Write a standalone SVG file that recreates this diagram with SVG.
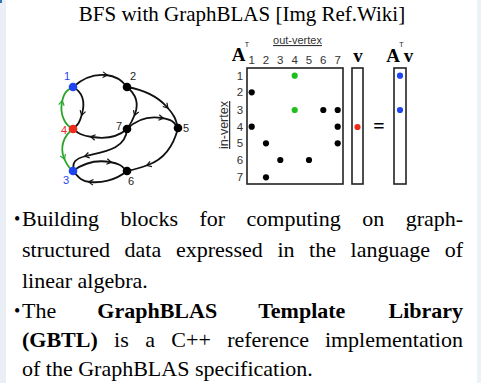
<svg xmlns="http://www.w3.org/2000/svg" width="481" height="383" viewBox="0 0 481 383">
<style>
.ser{font-family:"Liberation Serif","Times New Roman",serif;fill:#000}
.san{font-family:"Liberation Sans",Arial,sans-serif}
.edge{fill:none;stroke:#111;stroke-width:1.8;marker-mid:url(#ah)}
.gedge{fill:none;stroke:#2aa52a;stroke-width:1.8;marker-mid:url(#ahg)}
.lbl{font-family:"Liberation Sans",Arial,sans-serif;font-size:11px;fill:#222;text-anchor:middle}
.box{fill:none;stroke:#222;stroke-width:1.6}
.dot{fill:#000}
.gdot{fill:#1fbf1f}
.num{font-family:"Liberation Sans",Arial,sans-serif;font-size:11.5px;fill:#333;text-anchor:middle}
.para{font-family:"Liberation Serif","Times New Roman",serif;font-size:22px;fill:#000}
.b{font-weight:bold}
</style>
<defs>
<marker id="ah" viewBox="-5 -4 8 8" refX="0" refY="0" markerWidth="8" markerHeight="8" orient="auto" markerUnits="userSpaceOnUse">
<path d="M-3.2,-2.8 L1.4,0 L-3.2,2.8" fill="none" stroke="#111" stroke-width="1.2"/>
</marker>
<marker id="ahg" viewBox="-5 -4 8 8" refX="0" refY="0" markerWidth="8" markerHeight="8" orient="auto" markerUnits="userSpaceOnUse">
<path d="M-3.2,-2.8 L1.4,0 L-3.2,2.8" fill="none" stroke="#2aa52a" stroke-width="1.2"/>
</marker>
</defs>
<rect x="0" y="0" width="481" height="383" fill="#fff"/>
<rect x="0" y="0" width="6" height="383" fill="#e9eff4"/>
<rect x="0" y="0" width="2" height="3" fill="#2a78b0"/>
<rect x="477" y="0" width="4" height="383" fill="#edf2f6"/>

<text class="ser" x="242" y="21" font-size="21" text-anchor="middle">BFS with GraphBLAS [Img Ref.Wiki]</text>

<g id="connectors">
<path class="edge" d="M73,87 C85,76 96,74 106,75 S122,80 127,87"/>
<path class="edge" d="M73,87 C84,93 85,103 82,114 S77,125 73,129"/>
<path class="gedge" d="M73,129 C63,124 60,112 62,102 S67,90 73,87"/>
<path class="gedge" d="M73,129 C63,136 60,148 64,158 S70,168 73,171"/>
<path class="edge" d="M127,87 C138,96 138,106 135,114 S130,125 127,129"/>
<path class="edge" d="M127,87 C145,90 158,97 167,107 S176,121 178,128"/>
<path class="edge" d="M127,129 C137,119 150,116 162,118 S174,123 178,128"/>
<path class="edge" d="M127,129 C118,137 105,139 92,137 S77,132 73,129"/>
<path class="edge" d="M127,129 C126,150 102,152 86,156 S74,166 73,171"/>
<path class="edge" d="M178,128 C173,148 162,160 148,165 S132,170 127,171"/>
<path class="edge" d="M73,171 C85,162 98,160 110,162 S122,167 127,171"/>
<path class="edge" d="M127,171 C115,181 100,183 90,182 S78,176 73,171"/>
</g>

<g id="node1"><circle cx="73" cy="87" r="4.3" fill="#1f45f0"/><text class="lbl" x="67" y="80" style="fill:#1f45f0">1</text></g>
<g id="node2"><circle cx="127" cy="87" r="4.3" fill="#000"/><text class="lbl" x="133" y="80">2</text></g>
<g id="node3"><circle cx="73" cy="171" r="4.3" fill="#1f45f0"/><text class="lbl" x="66" y="184" style="fill:#1f45f0">3</text></g>
<g id="node4"><circle cx="73" cy="129" r="4.3" fill="#ee2a1a"/><text class="lbl" x="64" y="134" style="fill:#ee2a1a">4</text></g>
<g id="node5"><circle cx="178" cy="128" r="4.3" fill="#000"/><text class="lbl" x="186" y="132">5</text></g>
<g id="node6"><circle cx="127" cy="171" r="4.3" fill="#000"/><text class="lbl" x="131" y="185">6</text></g>
<g id="node7"><circle cx="127" cy="129" r="4.3" fill="#000"/><text class="lbl" x="119" y="130">7</text></g>

<g id="matrix">
<text class="san" x="297.5" y="44" font-size="11" fill="#333" text-anchor="middle" text-decoration="underline">out-vertex</text>
<text class="san" transform="translate(228,125) rotate(-90)" font-size="12.5" fill="#333" text-anchor="middle" text-decoration="underline">in-vertex</text>
<text class="ser b" x="238.5" y="61" font-size="19" text-anchor="middle">A</text>
<text class="san" x="247" y="47" font-size="7" fill="#222" text-anchor="middle">T</text>
<text class="num" x="251.7" y="63.5">1</text>
<text class="num" x="266" y="63.5">2</text>
<text class="num" x="280.3" y="63.5">3</text>
<text class="num" x="294.7" y="63.5">4</text>
<text class="num" x="309" y="63.5">5</text>
<text class="num" x="323.3" y="63.5">6</text>
<text class="num" x="337.7" y="63.5">7</text>
<text class="num" x="240" y="79.7">1</text>
<text class="num" x="240" y="96.3">2</text>
<text class="num" x="240" y="114">3</text>
<text class="num" x="240" y="130.7">4</text>
<text class="num" x="240" y="147.3">5</text>
<text class="num" x="240" y="164">6</text>
<text class="num" x="240" y="181.3">7</text>
<rect class="box" x="247" y="68" width="96" height="116"/>
<circle class="gdot" cx="294.7" cy="75.7" r="3.1"/>
<circle class="dot" cx="251.7" cy="92.3" r="3.1"/>
<circle class="gdot" cx="294.7" cy="110" r="3.1"/>
<circle class="dot" cx="323.3" cy="110" r="3.1"/>
<circle class="dot" cx="337.7" cy="110" r="3.1"/>
<circle class="dot" cx="251.7" cy="126.7" r="3.1"/>
<circle class="dot" cx="337.7" cy="126.7" r="3.1"/>
<circle class="dot" cx="266" cy="143.3" r="3.1"/>
<circle class="dot" cx="337.7" cy="143.3" r="3.1"/>
<circle class="dot" cx="280.3" cy="160" r="3.1"/>
<circle class="dot" cx="309" cy="160" r="3.1"/>
<circle class="dot" cx="266" cy="177.3" r="3.1"/>
</g>

<g id="vector-v">
<text class="ser b" x="358" y="62" font-size="19" text-anchor="middle">v</text>
<rect class="box" x="352" y="68" width="11" height="116"/>
<circle cx="357.5" cy="127" r="3.1" fill="#ee2a1a"/>
</g>
<text class="ser b" x="379" y="133" font-size="20" text-anchor="middle">=</text>
<g id="vector-result">
<text class="ser b" x="393" y="62" font-size="19" text-anchor="middle">A</text>
<text class="san" x="401.5" y="47" font-size="7" fill="#222" text-anchor="middle">T</text>
<text class="ser b" x="408.5" y="62" font-size="19" text-anchor="middle">v</text>
<rect class="box" x="394" y="68" width="12" height="116"/>
<circle cx="400" cy="75.7" r="3.1" fill="#1f45f0"/>
<circle cx="400" cy="110" r="3.1" fill="#1f45f0"/>
</g>

<g id="text">
<text class="para" x="14" y="225" style="font-size:18px">•</text>
<text class="para" y="226"><tspan x="22">Building</tspan><tspan x="120.5">blocks</tspan><tspan x="199.4">for</tspan><tspan x="246.6">computing</tspan><tspan x="362.2">on</tspan><tspan x="405.7">graph-</tspan></text>
<text class="para" y="257"><tspan x="22">structured</tspan><tspan x="124.6">data</tspan><tspan x="176">expressed</tspan><tspan x="277.4">in</tspan><tspan x="309.1">the</tspan><tspan x="350.6">language</tspan><tspan x="444.7">of</tspan></text>
<text class="para" x="22" y="288">linear algebra.</text>
<text class="para" x="14" y="317" style="font-size:18px">•</text>
<text class="para" y="318"><tspan x="22">The</tspan><tspan class="b" x="97.3">GraphBLAS</tspan><tspan class="b" x="258.2">Template</tspan><tspan class="b" x="388.5">Library</tspan></text>
<text class="para" y="347"><tspan class="b" x="22">(GBTL)</tspan><tspan x="114.1">is</tspan><tspan x="145.2">a</tspan><tspan x="171.3">C++</tspan><tspan x="227.2">reference</tspan><tspan x="324.9">implementation</tspan></text>
<text class="para" x="22" y="376">of the GraphBLAS specification.</text>
</g>
</svg>
